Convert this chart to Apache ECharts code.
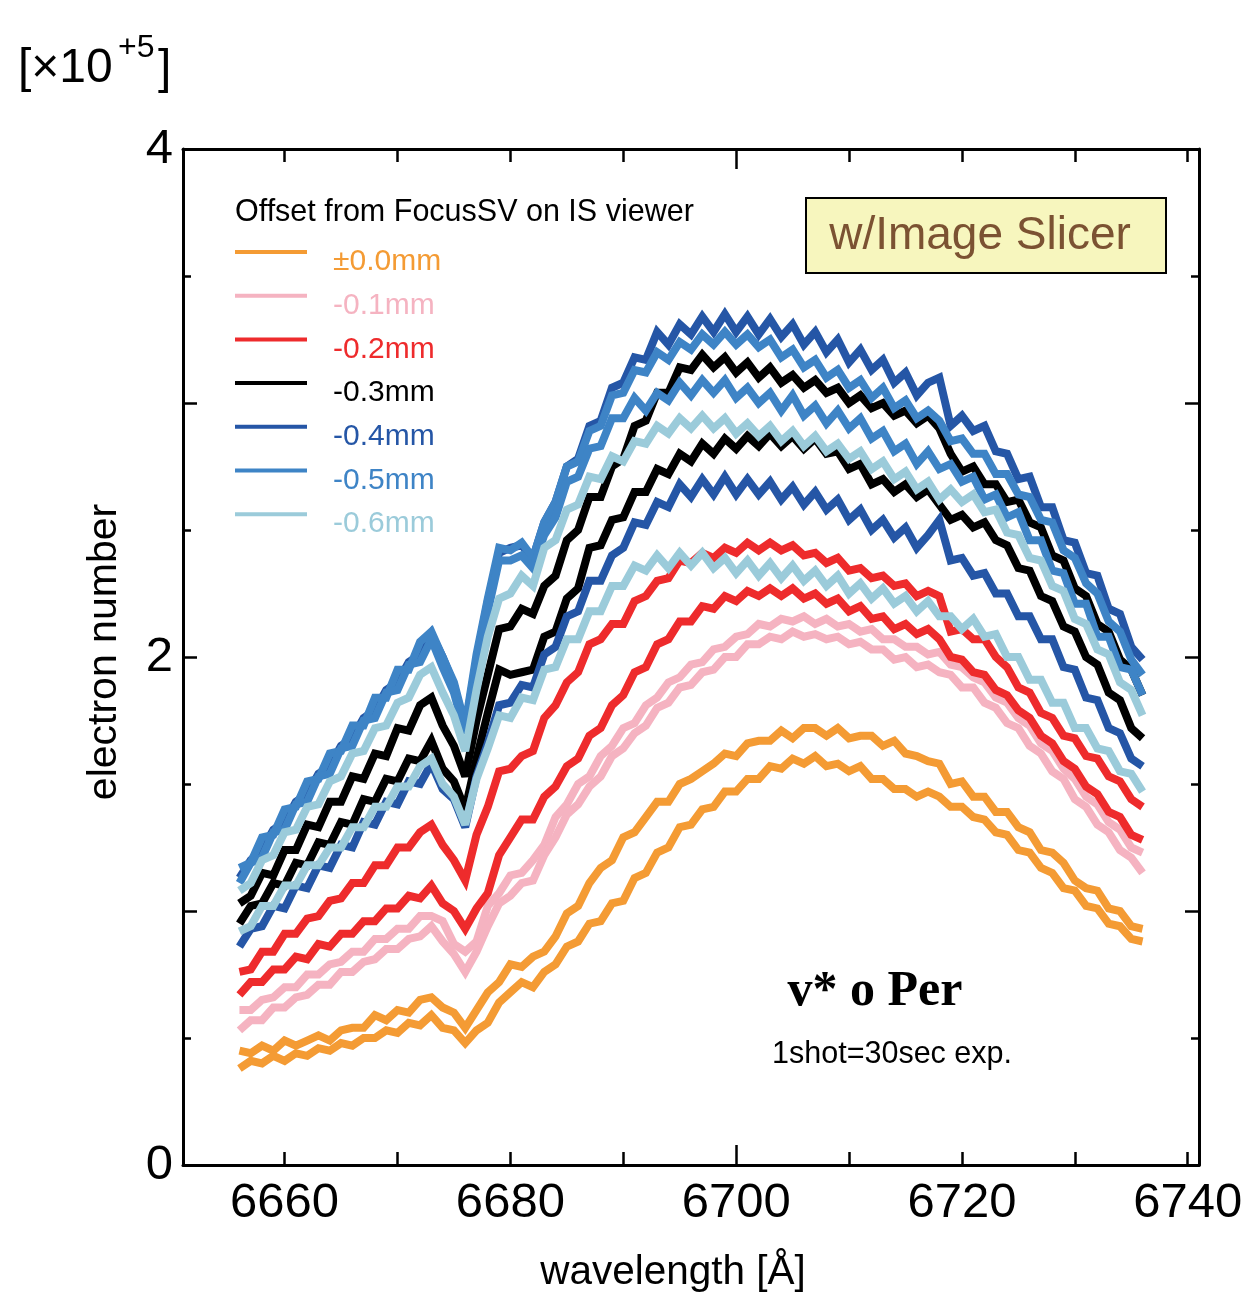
<!DOCTYPE html>
<html><head><meta charset="utf-8">
<script src="https://cdn.jsdelivr.net/npm/echarts@6/dist/echarts.min.js"></script>
<style>html,body{margin:0;padding:0;background:#fff}#c{width:1254px;height:1300px}</style>
</head><body><div id="c"></div>
<script>
// wavelength grid [Å]
const wavelength = [
6656,6657,6658,6659,6660,6661,6662,6663,6664,6665,
6666,6667,6668,6669,6670,6671,6672,6673,6674,6675,
6676,6677,6678,6679,6680,6681,6682,6683,6684,6685,
6686,6687,6688,6689,6690,6691,6692,6693,6694,6695,
6696,6697,6698,6699,6700,6701,6702,6703,6704,6705,
6706,6707,6708,6709,6710,6711,6712,6713,6714,6715,
6716,6717,6718,6719,6720,6721,6722,6723,6724,6725,
6726,6727,6728,6729,6730,6731,6732,6733,6734,6735,
6736];

const offsetNames  = ['±0.0mm','-0.1mm','-0.2mm','-0.3mm','-0.4mm','-0.5mm','-0.6mm'];
const offsetColors = ['#F49B34','#F5B3C1','#EE2B2C','#000000','#2556A6','#3E84C6','#9BCBDA'];
const xTickValues  = [6660,6670,6680,6690,6700,6710,6720,6730,6740];
const xLabelValues = [6660,6680,6700,6720,6740];
const xLongTick    = [6700];
const yTickValues  = [0,0.5,1,1.5,2,2.5,3,3.5,4];
const yLongTicks   = [1,2,3];
const yLabelValues = [0,2,4];

// electron number [x1e5], two 30 s shots per focus offset
const shot00a = [
.45,.44,.47,.45,.49,.47,.49,.51,.49,.53,
.54,.54,.59,.57,.61,.60,.65,.66,.62,.60,
.54,.61,.68,.72,.79,.78,.82,.84,.90,.99,
1.02,1.11,1.17,1.20,1.29,1.31,1.37,1.43,1.43,1.50,
1.52,1.55,1.58,1.62,1.61,1.66,1.67,1.67,1.71,1.68,
1.72,1.72,1.69,1.72,1.68,1.69,1.69,1.65,1.67,1.62,
1.61,1.59,1.58,1.50,1.51,1.45,1.45,1.39,1.39,1.33,
1.31,1.24,1.23,1.19,1.12,1.09,1.08,1.01,1.00,0.94,
0.93];
const shot00b = [
.38,.41,.40,.43,.41,.44,.43,.46,.45,.48,
.47,.50,.50,.53,.52,.56,.55,.59,.54,.53,
.48,.53,.56,.64,.68,.72,.70,.76,.79,.86,
.88,.95,.96,1.03,1.04,1.13,1.15,1.23,1.25,1.33,
1.34,1.40,1.41,1.47,1.47,1.52,1.52,1.57,1.56,1.60,
1.58,1.61,1.57,1.58,1.55,1.57,1.52,1.52,1.48,1.48,
1.45,1.47,1.45,1.41,1.41,1.37,1.36,1.31,1.30,1.24,
1.23,1.17,1.15,1.09,1.08,1.02,1.01,.95,.94,.89,
.88];
const shot01a = [
.61,.61,.65,.66,.70,.70,.75,.75,.79,.80,
.84,.84,.89,.89,.93,.93,.98,.98,.96,.87,
.84,.88,1.02,1.07,1.14,1.15,1.20,1.26,1.37,1.42,
1.50,1.53,1.61,1.65,1.72,1.74,1.81,1.84,1.90,1.92,
1.97,1.98,2.03,2.04,2.08,2.09,2.13,2.12,2.15,2.14,
2.16,2.13,2.15,2.12,2.13,2.10,2.11,2.07,2.07,2.04,
2.04,2.01,2.02,1.97,1.96,1.92,1.90,1.84,1.82,1.76,
1.73,1.66,1.63,1.56,1.52,1.45,1.42,1.35,1.32,1.25,
1.23];
const shot01b = [
.53,.57,.57,.62,.62,.66,.67,.71,.71,.76,
.76,.80,.81,.85,.85,.89,.90,.94,.88,.83,
.76,.84,.94,1.03,1.06,1.11,1.12,1.22,1.29,1.38,
1.42,1.49,1.53,1.61,1.64,1.70,1.73,1.80,1.82,1.88,
1.89,1.94,1.95,2.00,2.00,2.05,2.05,2.08,2.07,2.10,
2.08,2.09,2.07,2.08,2.05,2.06,2.03,2.03,1.99,2.00,
1.96,1.97,1.94,1.93,1.88,1.88,1.82,1.80,1.74,1.72,
1.65,1.62,1.55,1.52,1.44,1.41,1.34,1.31,1.24,1.21,
1.15];
const shot02a = [
.76,.77,.84,.84,.91,.91,.97,.98,1.04,1.05,
1.11,1.11,1.18,1.18,1.25,1.25,1.31,1.34,1.26,1.20,
1.12,1.30,1.41,1.55,1.56,1.61,1.63,1.76,1.81,1.90,
1.94,2.05,2.07,2.13,2.13,2.22,2.24,2.30,2.31,2.38,
2.37,2.41,2.39,2.43,2.41,2.45,2.42,2.45,2.42,2.44,
2.40,2.41,2.37,2.39,2.34,2.35,2.31,2.32,2.28,2.29,
2.24,2.26,2.24,2.10,2.11,2.07,2.07,2.00,1.96,1.88,
1.86,1.78,1.76,1.69,1.68,1.61,1.60,1.53,1.51,1.44,
1.41];
const shot02b = [
.67,.72,.72,.77,.77,.82,.81,.87,.86,.91,
.91,.96,.96,1.01,1.01,1.06,1.05,1.10,1.03,1.00,
.93,1.01,1.07,1.22,1.29,1.36,1.36,1.45,1.49,1.57,
1.60,1.69,1.72,1.81,1.85,1.94,1.96,2.05,2.07,2.14,
2.14,2.20,2.19,2.24,2.22,2.26,2.24,2.27,2.24,2.27,
2.23,2.25,2.21,2.23,2.18,2.20,2.15,2.16,2.11,2.13,
2.09,2.11,2.07,2.00,1.99,1.94,1.93,1.87,1.85,1.79,
1.76,1.69,1.66,1.59,1.56,1.49,1.46,1.39,1.37,1.30,
1.28];
const shot03a = [
1.03,1.06,1.15,1.14,1.24,1.24,1.34,1.33,1.43,1.43,
1.53,1.52,1.62,1.61,1.72,1.71,1.81,1.84,1.73,1.65,
1.53,1.75,1.93,2.11,2.12,2.19,2.17,2.28,2.32,2.46,
2.50,2.63,2.63,2.75,2.78,2.91,2.93,3.04,3.04,3.14,
3.13,3.19,3.14,3.18,3.12,3.16,3.10,3.14,3.08,3.11,
3.06,3.09,3.04,3.06,3.00,3.03,2.98,3.00,2.95,2.97,
2.92,2.95,2.90,2.80,2.73,2.75,2.68,2.68,2.61,2.62,
2.53,2.51,2.40,2.38,2.27,2.24,2.13,2.10,1.99,1.95,
1.85];
const shot03b = [
.95,1.02,1.03,1.11,1.10,1.19,1.18,1.27,1.26,1.35,
1.34,1.44,1.43,1.52,1.51,1.60,1.59,1.67,1.56,1.51,
1.40,1.60,1.78,1.95,1.93,1.94,1.95,2.08,2.10,2.23,
2.27,2.43,2.44,2.54,2.55,2.65,2.65,2.74,2.72,2.80,
2.77,2.84,2.80,2.86,2.82,2.87,2.83,2.88,2.83,2.87,
2.82,2.86,2.80,2.81,2.74,2.76,2.68,2.70,2.65,2.68,
2.63,2.66,2.60,2.54,2.56,2.51,2.53,2.46,2.44,2.35,
2.34,2.24,2.22,2.12,2.10,2.00,1.97,1.86,1.83,1.72,
1.68];
const shot04a = [
1.13,1.20,1.24,1.32,1.35,1.43,1.46,1.54,1.57,1.65,
1.68,1.76,1.79,1.87,1.90,1.98,2.01,2.09,2.00,1.89,
1.72,1.99,2.22,2.41,2.43,2.44,2.39,2.53,2.61,2.75,
2.78,2.91,2.93,3.06,3.08,3.18,3.17,3.28,3.23,3.31,
3.27,3.34,3.28,3.35,3.28,3.34,3.27,3.33,3.26,3.31,
3.23,3.28,3.20,3.25,3.16,3.21,3.13,3.17,3.08,3.12,
3.03,3.08,3.10,2.91,2.95,2.89,2.91,2.81,2.80,2.70,
2.71,2.59,2.59,2.46,2.45,2.33,2.32,2.19,2.17,2.04,
1.99];
const shot04b = [
.86,.93,.94,1.02,1.01,1.10,1.09,1.18,1.17,1.26,
1.25,1.35,1.34,1.43,1.42,1.51,1.50,1.58,1.48,1.44,
1.33,1.53,1.66,1.81,1.82,1.89,1.88,2.01,2.04,2.16,
2.18,2.30,2.30,2.40,2.43,2.53,2.52,2.61,2.59,2.68,
2.63,2.70,2.64,2.71,2.64,2.70,2.64,2.69,2.62,2.67,
2.60,2.65,2.58,2.62,2.54,2.58,2.50,2.54,2.47,2.51,
2.43,2.48,2.54,2.38,2.39,2.32,2.33,2.25,2.25,2.16,
2.16,2.07,2.07,1.96,1.95,1.84,1.83,1.72,1.70,1.60,
1.57];
const shot05a = [
1.17,1.19,1.29,1.30,1.40,1.41,1.51,1.52,1.62,1.63,
1.73,1.73,1.84,1.84,1.95,1.95,2.06,2.10,2.00,1.90,
1.73,2.01,2.23,2.43,2.42,2.45,2.39,2.53,2.61,2.75,
2.77,2.89,2.91,3.03,3.04,3.13,3.12,3.20,3.17,3.24,
3.21,3.27,3.23,3.28,3.23,3.27,3.22,3.25,3.18,3.21,
3.14,3.17,3.10,3.13,3.06,3.09,3.02,3.06,2.98,3.01,
2.94,2.97,2.93,2.85,2.86,2.80,2.80,2.72,2.72,2.64,
2.63,2.54,2.53,2.42,2.39,2.29,2.25,2.14,2.10,1.99,
1.93];
const shot05b = [
1.11,1.19,1.21,1.31,1.32,1.42,1.43,1.53,1.54,1.64,
1.65,1.75,1.76,1.86,1.87,1.97,1.98,2.07,1.96,1.86,
1.70,1.95,2.18,2.38,2.38,2.40,2.35,2.48,2.55,2.69,
2.71,2.82,2.83,2.94,2.94,3.02,2.97,3.04,3.01,3.08,
3.03,3.09,3.04,3.09,3.02,3.06,3.00,3.04,2.97,3.03,
2.95,2.99,2.92,2.97,2.90,2.94,2.86,2.89,2.81,2.84,
2.76,2.81,2.74,2.76,2.69,2.71,2.62,2.64,2.55,2.57,
2.46,2.46,2.34,2.33,2.21,2.21,2.08,2.08,1.96,1.95,
1.85];
const shot06a = [
1.08,1.11,1.20,1.22,1.31,1.32,1.41,1.42,1.51,1.53,
1.62,1.63,1.72,1.73,1.82,1.84,1.93,1.96,1.86,1.77,
1.63,1.87,2.08,2.23,2.25,2.32,2.28,2.43,2.46,2.58,
2.60,2.71,2.70,2.79,2.77,2.85,2.84,2.91,2.88,2.94,
2.90,2.95,2.90,2.94,2.88,2.92,2.87,2.91,2.85,2.89,
2.83,2.87,2.81,2.84,2.78,2.81,2.74,2.77,2.70,2.73,
2.66,2.69,2.62,2.66,2.61,2.64,2.57,2.58,2.49,2.48,
2.39,2.38,2.28,2.26,2.15,2.13,2.03,2.01,1.90,1.87,
1.77];
const shot06b = [
.92,.94,1.02,1.02,1.10,1.10,1.18,1.18,1.25,1.25,
1.33,1.33,1.41,1.41,1.49,1.49,1.57,1.60,1.50,1.45,
1.34,1.52,1.64,1.77,1.76,1.84,1.83,1.95,1.96,2.07,
2.07,2.18,2.18,2.28,2.28,2.36,2.34,2.40,2.35,2.41,
2.36,2.41,2.35,2.39,2.33,2.38,2.32,2.37,2.31,2.36,
2.30,2.34,2.28,2.32,2.25,2.29,2.23,2.27,2.21,2.24,
2.18,2.22,2.16,2.16,2.11,2.15,2.08,2.09,2.00,2.00,
1.91,1.91,1.82,1.82,1.72,1.72,1.64,1.63,1.55,1.54,
1.47];

const shots = [
  [0, shot00a], [0, shot00b],
  [1, shot01a], [1, shot01b],
  [2, shot02a], [2, shot02b],
  [3, shot03a], [3, shot03b],
  [4, shot04a], [4, shot04b],
  [5, shot05a], [5, shot05b],
  [6, shot06a], [6, shot06b]
];
shots.forEach(function (s, k) {
  if (s[1].length !== wavelength.length) throw new Error('series ' + k + ' has ' + s[1].length + ' values');
});

const FONT = 'Liberation Sans';
const axisLineStyle = { color: '#000', width: 3 };
const tickLineStyle = { color: '#000', width: 2.5 };

function xAxisDef(pos, opts) {
  return Object.assign({
    type: 'value', min: 6651, max: 6741, position: pos,
    axisLine: { show: true, onZero: false, lineStyle: axisLineStyle },
    axisTick: { show: true, inside: true, length: 13, customValues: xTickValues, lineStyle: tickLineStyle },
    axisLabel: { show: false },
    splitLine: { show: false }
  }, opts || {});
}
function yAxisDef(pos, opts) {
  return Object.assign({
    type: 'value', min: 0, max: 4, position: pos,
    axisLine: { show: true, onZero: false, lineStyle: axisLineStyle },
    axisTick: { show: true, inside: true, length: 8, customValues: yTickValues, lineStyle: tickLineStyle },
    axisLabel: { show: false },
    splitLine: { show: false }
  }, opts || {});
}

const chart = echarts.init(document.getElementById('c'), null, { renderer: 'canvas' });
chart.setOption({
  backgroundColor: '#fff',
  animation: false,
  textStyle: { fontFamily: FONT },
  grid: { left: 183, right: 55, top: 149, bottom: 135, containLabel: false },
  xAxis: [
    xAxisDef('bottom', {
      axisLabel: { show: true, customValues: xLabelValues, fontSize: 49, color: '#000', margin: 14, fontFamily: FONT,
                   formatter: function (v) { return String(Math.round(v)); } },
      name: 'wavelength [Å]', nameLocation: 'middle', nameGap: 87,
      nameTextStyle: { fontSize: 40.5, color: '#000', fontFamily: FONT, padding: [0, 36, 0, 0] }
    }),
    xAxisDef('top'),
    xAxisDef('bottom', { axisLine: { show: false, onZero: false }, axisTick: { show: true, inside: true, length: 20, customValues: xLongTick, lineStyle: tickLineStyle } }),
    xAxisDef('top', { axisLine: { show: false, onZero: false }, axisTick: { show: true, inside: true, length: 20, customValues: xLongTick, lineStyle: tickLineStyle } })
  ],
  yAxis: [
    yAxisDef('left', {
      axisLabel: { show: true, customValues: yLabelValues, fontSize: 49, color: '#000', margin: 10, fontFamily: FONT },
      name: 'electron number', nameLocation: 'middle', nameGap: 58, nameRotate: 90,
      nameTextStyle: { fontSize: 41, color: '#000', fontFamily: FONT, padding: [0, 0, 0, 10] }
    }),
    yAxisDef('right'),
    yAxisDef('left', { axisLine: { show: false, onZero: false }, axisTick: { show: true, inside: true, length: 14, customValues: yLongTicks, lineStyle: tickLineStyle } }),
    yAxisDef('right', { axisLine: { show: false, onZero: false }, axisTick: { show: true, inside: true, length: 14, customValues: yLongTicks, lineStyle: tickLineStyle } })
  ],
  legend: {
    orient: 'vertical', left: 235, top: 247, padding: 0,
    icon: 'path://M0,0L72,0L72,4L0,4Z M0,23.9L0.1,23.9L0.1,24L0,24Z',
    itemWidth: 72, itemHeight: 24, itemGap: 13.7,
    itemStyle: { borderWidth: 0 },
    selectedMode: false,
    textStyle: { fontSize: 30, fontFamily: FONT, lineHeight: 30, padding: [0, 0, 0, 21] },
    data: offsetNames.map(function (n, i) { return { name: n, textStyle: { color: offsetColors[i] } }; })
  },
  graphic: [
    { type: 'text', x: 18, y: 69, style: { text: '[×10', font: '48px "Liberation Sans"', fill: '#000', align: 'left', verticalAlign: 'middle' } },
    { type: 'text', x: 118, y: 48, style: { text: '+5', font: '32px "Liberation Sans"', fill: '#000', align: 'left', verticalAlign: 'middle' } },
    { type: 'text', x: 158, y: 70, style: { text: ']', font: '48px "Liberation Sans"', fill: '#000', align: 'left', verticalAlign: 'middle' } },
    { type: 'text', x: 235, y: 213, style: { text: 'Offset from FocusSV on IS viewer', font: '30.5px "Liberation Sans"', fill: '#000', align: 'left', verticalAlign: 'middle' } },
    { type: 'rect', shape: { x: 806, y: 198, width: 360, height: 75 }, style: { fill: '#F7F6BE', stroke: '#000', lineWidth: 2 } },
    { type: 'text', x: 980, y: 236, style: { text: 'w/Image Slicer', font: '46px "Liberation Sans"', fill: '#7B5232', align: 'center', verticalAlign: 'middle' } },
    { type: 'text', x: 875, y: 992, style: { text: 'v* o Per', font: 'bold 50px "Liberation Serif"', fill: '#000', align: 'center', verticalAlign: 'middle' } },
    { type: 'text', x: 892, y: 1055, style: { text: '1shot=30sec exp.', font: '30.5px "Liberation Sans"', fill: '#000', align: 'center', verticalAlign: 'middle' } }
  ],
  series: shots.map(function (s) {
    const ci = s[0], vals = s[1];
    return {
      type: 'line', name: offsetNames[ci],
      xAxisIndex: 0, yAxisIndex: 0,
      data: wavelength.map(function (w, i) { return [w, vals[i]]; }),
      showSymbol: false, symbol: 'none', silent: true,
      lineStyle: { width: 8, color: offsetColors[ci], join: 'miter', miterLimit: 3 },
      itemStyle: { color: offsetColors[ci] }
    };
  })
});
</script></body></html>
